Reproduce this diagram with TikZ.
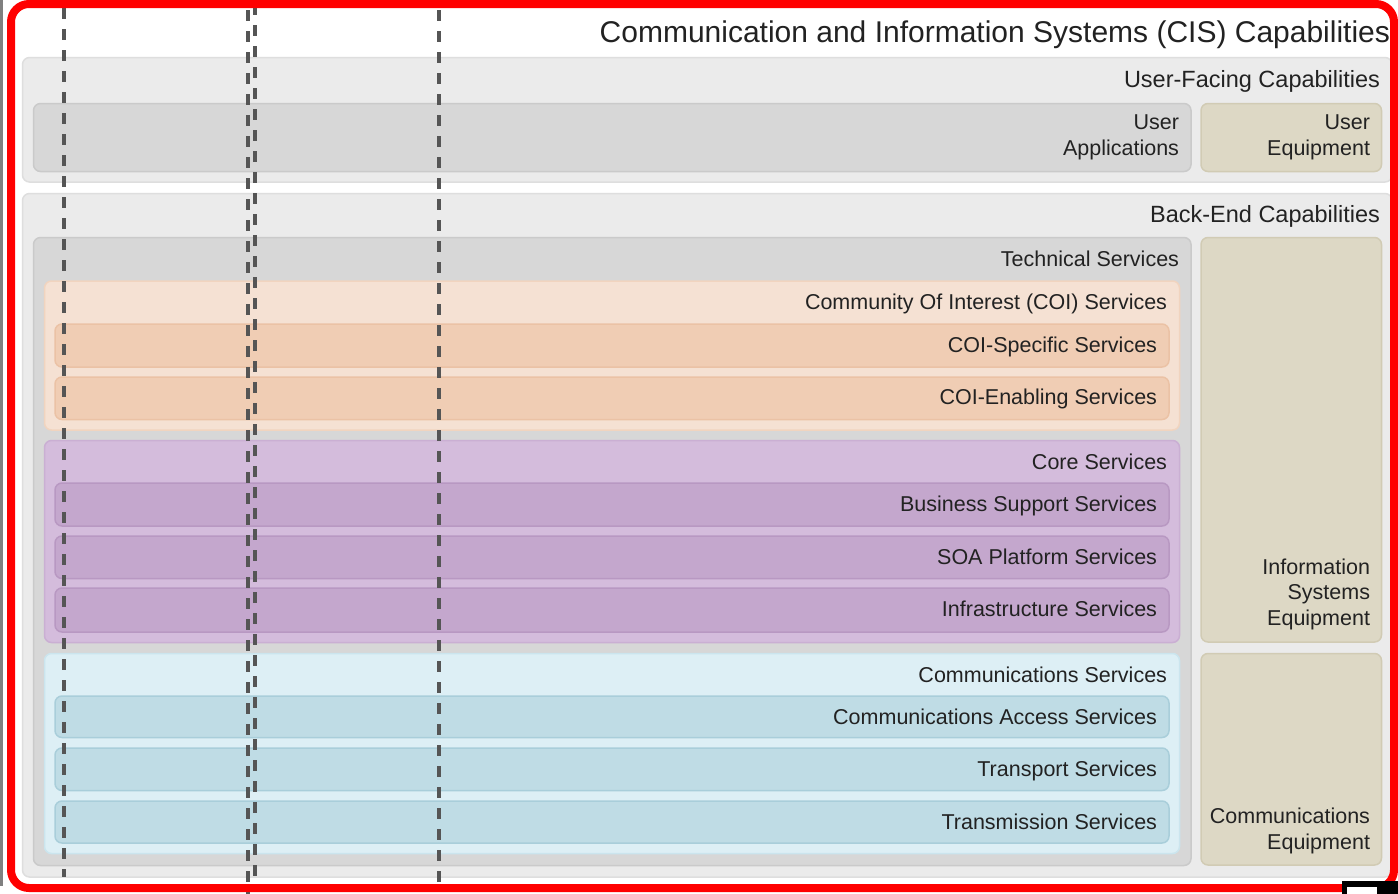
\documentclass[tikz,border=0pt]{standalone}
\usepackage{fontspec}
\setmainfont{Liberation Sans}
\usepackage{xcolor}
\usepackage{tikz}
\definecolor{capfill}{HTML}{EBEBEB}
\definecolor{capline}{HTML}{DEDEDE}
\definecolor{grayfill}{HTML}{D7D7D7}
\definecolor{grayline}{HTML}{CACACA}
\definecolor{equipfill}{HTML}{DDD8C5}
\definecolor{equipline}{HTML}{D1CBB4}
\definecolor{coifill}{HTML}{F5E1D3}
\definecolor{coiline}{HTML}{F1D4BF}
\definecolor{coiinner}{HTML}{F0CDB4}
\definecolor{coiinline}{HTML}{EBC2A5}
\definecolor{corefill}{HTML}{D4BCDC}
\definecolor{coreline}{HTML}{CAAFD3}
\definecolor{coreinner}{HTML}{C4A7CD}
\definecolor{coreinline}{HTML}{B898C2}
\definecolor{comfill}{HTML}{DDEFF5}
\definecolor{comline}{HTML}{CBE5EE}
\definecolor{cominner}{HTML}{BFDCE5}
\definecolor{cominline}{HTML}{A9CEDA}
\definecolor{textgray}{HTML}{222222}
\definecolor{dashgray}{HTML}{555555}

\begin{document}
\begin{tikzpicture}[y=1pt, x=1pt, yscale=-1, inner sep=0pt, outer sep=0pt,
    box/.style={line width=1.5pt, rounded corners=7pt},
    title/.style={font=\fontsize{30}{34}\selectfont, text=textgray, anchor=base east},
    big/.style={font=\fontsize{23.5}{28}\selectfont, text=textgray, anchor=base east},
    small/.style={font=\fontsize{21.5}{25.5}\selectfont, text=textgray, anchor=base east, align=right}]
  \useasboundingbox (0,0) rectangle (1398,894);
  \path[fill=white] (0,0) rectangle (1398,894);
  \path[box, draw=capline, fill=capfill] (22.5,57.5) rectangle (1392,182);
  \path[box, draw=grayline, fill=grayfill] (33.5,103.5) rectangle (1191,171.5);
  \path[box, draw=equipline, fill=equipfill] (1201,103.5) rectangle (1381.5,171.5);
  \path[box, draw=capline, fill=capfill] (22.5,193.5) rectangle (1392,877);
  \path[box, draw=grayline, fill=grayfill] (33.5,237.5) rectangle (1191,865.5);
  \path[box, draw=equipline, fill=equipfill] (1201,237.5) rectangle (1381.5,642);
  \path[box, draw=equipline, fill=equipfill] (1201,653.5) rectangle (1381.5,865);
  \path[box, draw=coiline, fill=coifill] (44.5,281) rectangle (1179.5,430);
  \path[box, draw=coiinline, fill=coiinner] (55,324) rectangle (1169,367);
  \path[box, draw=coiinline, fill=coiinner] (55,377) rectangle (1169,419.5);
  \path[box, draw=coreline, fill=corefill] (44.5,440.5) rectangle (1179.5,642.5);
  \path[box, draw=coreinline, fill=coreinner] (55,483) rectangle (1169,526);
  \path[box, draw=coreinline, fill=coreinner] (55,536) rectangle (1169,578.5);
  \path[box, draw=coreinline, fill=coreinner] (55,588) rectangle (1169,632);
  \path[box, draw=comline, fill=comfill] (44.5,653.5) rectangle (1179.5,853.5);
  \path[box, draw=cominline, fill=cominner] (55,696) rectangle (1169,737.5);
  \path[box, draw=cominline, fill=cominner] (55,748) rectangle (1169,790.5);
  \path[box, draw=cominline, fill=cominner] (55,801) rectangle (1169,843);

  \node[title] (cis) at (1390,42) {Communication and Information Systems (CIS) Capabilities};
  \node[big] (userfacing) at (1380,87) {User-Facing Capabilities};
  \node[small] (userapps) at (1179,155) {User\\Applications};
  \node[small] (userequip) at (1370,155) {User\\Equipment};
  \node[big] (backend) at (1380,222) {Back-End Capabilities};
  \node[small] (technical) at (1179,266) {Technical Services};
  \node[small] (coi) at (1167,309) {Community Of Interest (COI) Services};
  \node[small] (coispecific) at (1157,352) {COI-Specific Services};
  \node[small] (coienabling) at (1157,404) {COI-Enabling Services};
  \node[small] (core) at (1167,469) {Core Services};
  \node[small] (business) at (1157,511) {Business Support Services};
  \node[small] (soa) at (1157,564) {SOA Platform Services};
  \node[small] (infra) at (1157,616) {Infrastructure Services};
  \node[small] (comms) at (1167,682) {Communications Services};
  \node[small] (access) at (1157,724) {Communications Access Services};
  \node[small] (transport) at (1157,776) {Transport Services};
  \node[small] (transmission) at (1157,829) {Transmission Services};
  \node[small] (isequip) at (1370,625) {Information\\Systems\\Equipment};
  \node[small] (commsequip) at (1370,849) {Communications\\Equipment};

  \path[draw=dashgray, line width=3.5pt, dash pattern=on 11pt off 10pt] (64,8) -- (64,877);
  \path[draw=dashgray, line width=3.5pt, dash pattern=on 11pt off 10pt] (248,10) -- (248,894);
  \path[draw=dashgray, line width=3.5pt, dash pattern=on 11pt off 10pt] (255,4) -- (255,878);
  \path[draw=dashgray, line width=3.5pt, dash pattern=on 11pt off 10pt] (439,10) -- (439,886);
  \path[draw=gray, line width=3pt] (1.5,0) -- (1.5,886);
  \path[draw=red, line width=8pt, rounded corners=18pt] (11,4) rectangle (1394,888);
  \path[fill=black] (1342,881) rectangle (1398,894);
  \path[fill=white] (1347,887) rectangle (1377,894);
\end{tikzpicture}
\end{document}
